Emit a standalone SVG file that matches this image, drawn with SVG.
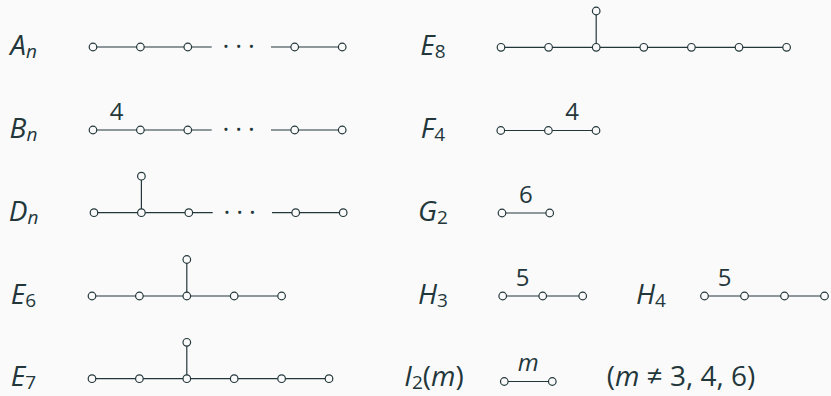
<svg xmlns="http://www.w3.org/2000/svg" width="831" height="396" viewBox="0 0 831 396">
<style>
.bg{fill:#fafafa}
.e{stroke:#23373b;stroke-width:1.2;fill:none}
.n circle{fill:#fafafa;stroke:#23373b;stroke-width:1.2}
text{font-family:"Open Sans","Liberation Sans",sans-serif;fill:#23373b}
.lab{font-size:28px;text-anchor:middle}
.it{font-style:italic}
.sub{font-size:19px}
.el{font-size:24px;text-anchor:middle}
.dots{font-size:26px;text-anchor:middle}
</style>
<rect class="bg" width="831" height="396"/>
<g id="connectors" class="e">
<path d="M93 47H211.7M271 47H342.2"/>
<path d="M93 130H211.7M271 130H342.2"/>
<path d="M94 212.7H212.7M272 212.7H343.2M141.4 212.7V176.2"/>
<path d="M92 296H281.6M186.8 296V259.5"/>
<path d="M92 378.7H329M186.8 378.7V342.3"/>
<path d="M501 47.3H786.6M596.2 47.3V11"/>
<path d="M500.8 130.5H596"/>
<path d="M502 213H549.7"/>
<path d="M502.7 296H582.7"/>
<path d="M704.5 296H824.5"/>
<path d="M504.3 381.5H552.3"/>
</g>
<g class="n">
<g id="A1"><circle cx="93" cy="47" r="3.8"/></g>
<g id="A2"><circle cx="140.4" cy="47" r="3.8"/></g>
<g id="A3"><circle cx="187.8" cy="47" r="3.8"/></g>
<g id="A4"><circle cx="294.7" cy="47" r="3.8"/></g>
<g id="A5"><circle cx="342.2" cy="47" r="3.8"/></g>
<g id="B1"><circle cx="93" cy="130" r="3.8"/></g>
<g id="B2"><circle cx="140.4" cy="130" r="3.8"/></g>
<g id="B3"><circle cx="187.8" cy="130" r="3.8"/></g>
<g id="B4"><circle cx="294.7" cy="130" r="3.8"/></g>
<g id="B5"><circle cx="342.2" cy="130" r="3.8"/></g>
<g id="D1"><circle cx="94" cy="212.7" r="3.8"/></g>
<g id="D2"><circle cx="141.4" cy="212.7" r="3.8"/></g>
<g id="D3"><circle cx="188.8" cy="212.7" r="3.8"/></g>
<g id="D4"><circle cx="295.7" cy="212.7" r="3.8"/></g>
<g id="D5"><circle cx="343.2" cy="212.7" r="3.8"/></g>
<g id="D6"><circle cx="141.4" cy="176.2" r="3.8"/></g>
<g id="E6_1"><circle cx="92" cy="296" r="3.8"/></g>
<g id="E6_2"><circle cx="139.4" cy="296" r="3.8"/></g>
<g id="E6_3"><circle cx="186.8" cy="296" r="3.8"/></g>
<g id="E6_4"><circle cx="234.2" cy="296" r="3.8"/></g>
<g id="E6_5"><circle cx="281.6" cy="296" r="3.8"/></g>
<g id="E6_6"><circle cx="186.8" cy="259.5" r="3.8"/></g>
<g id="E7_1"><circle cx="92" cy="378.7" r="3.8"/></g>
<g id="E7_2"><circle cx="139.4" cy="378.7" r="3.8"/></g>
<g id="E7_3"><circle cx="186.8" cy="378.7" r="3.8"/></g>
<g id="E7_4"><circle cx="234.2" cy="378.7" r="3.8"/></g>
<g id="E7_5"><circle cx="281.6" cy="378.7" r="3.8"/></g>
<g id="E7_6"><circle cx="329" cy="378.7" r="3.8"/></g>
<g id="E7_7"><circle cx="186.8" cy="342.3" r="3.8"/></g>
<g id="E8_1"><circle cx="501" cy="47.3" r="3.8"/></g>
<g id="E8_2"><circle cx="548.6" cy="47.3" r="3.8"/></g>
<g id="E8_3"><circle cx="596.2" cy="47.3" r="3.8"/></g>
<g id="E8_4"><circle cx="643.8" cy="47.3" r="3.8"/></g>
<g id="E8_5"><circle cx="691.4" cy="47.3" r="3.8"/></g>
<g id="E8_6"><circle cx="739" cy="47.3" r="3.8"/></g>
<g id="E8_7"><circle cx="786.6" cy="47.3" r="3.8"/></g>
<g id="E8_8"><circle cx="596.2" cy="11" r="3.8"/></g>
<g id="F1"><circle cx="500.8" cy="130.5" r="3.8"/></g>
<g id="F2"><circle cx="548.4" cy="130.5" r="3.8"/></g>
<g id="F3"><circle cx="596" cy="130.5" r="3.8"/></g>
<g id="G1"><circle cx="502" cy="213" r="3.8"/></g>
<g id="G2n"><circle cx="549.7" cy="213" r="3.8"/></g>
<g id="H3_1"><circle cx="502.7" cy="296" r="3.8"/></g>
<g id="H3_2"><circle cx="542.7" cy="296" r="3.8"/></g>
<g id="H3_3"><circle cx="582.7" cy="296" r="3.8"/></g>
<g id="H4_1"><circle cx="704.5" cy="296" r="3.8"/></g>
<g id="H4_2"><circle cx="744.5" cy="296" r="3.8"/></g>
<g id="H4_3"><circle cx="784.5" cy="296" r="3.8"/></g>
<g id="H4_4"><circle cx="824.5" cy="296" r="3.8"/></g>
<g id="I1"><circle cx="504.3" cy="381.5" r="3.8"/></g>
<g id="I2n"><circle cx="552.3" cy="381.5" r="3.8"/></g>
</g>
<g id="dots">
<text class="dots" x="226 238.7 251.3" y="55">···</text>
<text class="dots" x="226 238.7 251.3" y="138">···</text>
<text class="dots" x="227 239.7 252.3" y="220.7">···</text>
</g>
<g id="edge-labels">
<text class="el" x="116.7" y="120">4</text>
<text class="el" x="572.2" y="120">4</text>
<text class="el" x="525.9" y="202.5">6</text>
<text class="el" x="522.7" y="285.5">5</text>
<text class="el" x="724.5" y="285.5">5</text>
<text class="el it" x="528.3" y="371">m</text>
</g>
<g id="labels">
<text class="lab" x="23.5" y="55"><tspan class="it">A</tspan><tspan class="sub it" dy="3">n</tspan></text>
<text class="lab" x="23.5" y="138"><tspan class="it">B</tspan><tspan class="sub it" dy="3">n</tspan></text>
<text class="lab" x="23.5" y="221"><tspan class="it">D</tspan><tspan class="sub it" dy="3">n</tspan></text>
<text class="lab" x="23.5" y="304"><tspan class="it">E</tspan><tspan class="sub" dy="3">6</tspan></text>
<text class="lab" x="23.5" y="386"><tspan class="it">E</tspan><tspan class="sub" dy="3">7</tspan></text>
<text class="lab" x="433" y="55"><tspan class="it">E</tspan><tspan class="sub" dy="3">8</tspan></text>
<text class="lab" x="433" y="138"><tspan class="it">F</tspan><tspan class="sub" dy="3">4</tspan></text>
<text class="lab" x="433" y="221"><tspan class="it">G</tspan><tspan class="sub" dy="3">2</tspan></text>
<text class="lab" x="433" y="304"><tspan class="it">H</tspan><tspan class="sub" dy="3">3</tspan></text>
<text class="lab" x="651" y="304"><tspan class="it">H</tspan><tspan class="sub" dy="3">4</tspan></text>
<text class="lab" x="434" y="386"><tspan class="it">I</tspan><tspan class="sub" dy="3">2</tspan><tspan dy="-3">(</tspan><tspan class="it">m</tspan>)</text>
<text class="lab" x="606.7" y="386" style="text-anchor:start">(<tspan class="it">m</tspan> ≠ 3, 4, 6)</text>
</g>
</svg>
